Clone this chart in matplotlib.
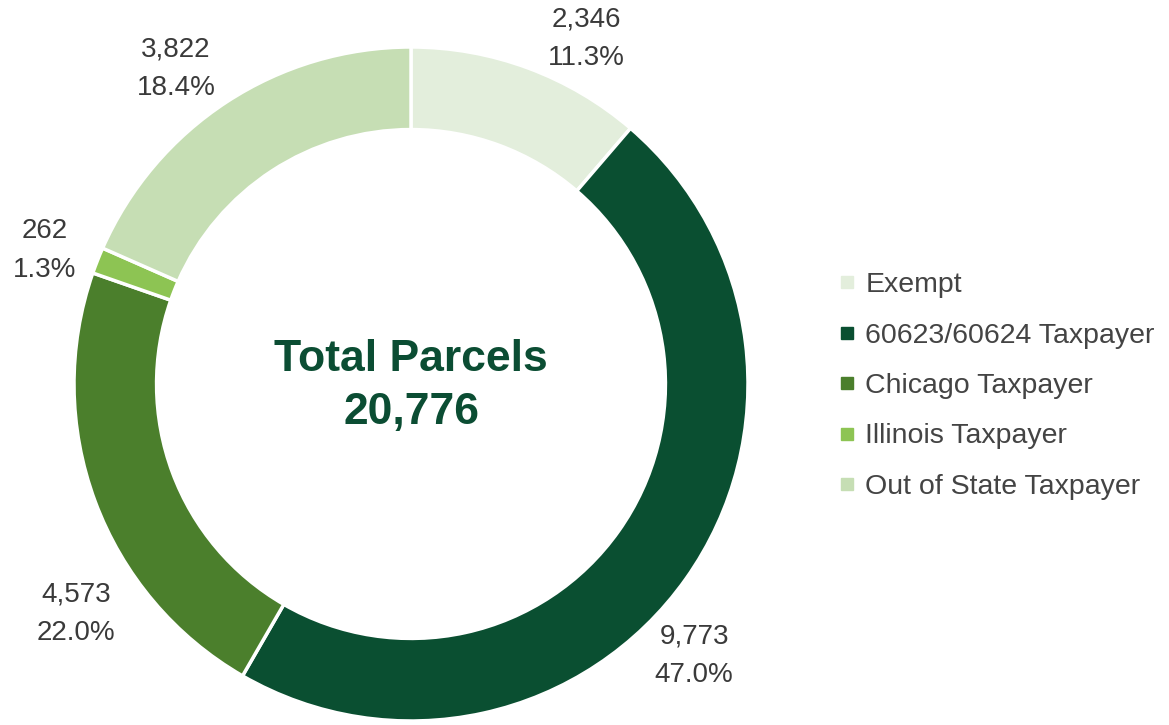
import matplotlib.pyplot as plt
from matplotlib.lines import Line2D

# parcel ownership counts
categories = ["Exempt", "60623/60624 Taxpayer", "Chicago Taxpayer",
              "Illinois Taxpayer", "Out of State Taxpayer"]
counts = [2346, 9773, 4573, 262, 3822]
pct_labels = ["11.3%", "47.0%", "22.0%", "1.3%", "18.4%"]
total_label = "20,776"

colors = ["#e3eedc", "#0a4f31", "#4b7f2c", "#8dc453", "#c6deb4"]
# where each value label sits (data units, ring radius = 1)
label_pos = [(0.519, 1.024), (0.840, -0.807), (-0.994, -0.682),
             (-1.086, 0.395), (-0.697, 0.935)]

plt.rcParams["font.family"] = ["Liberation Sans", "DejaVu Sans"]

fig = plt.figure(figsize=(11.69, 7.25), dpi=100)
ax = fig.add_axes([74 / 1169, 4 / 725, 674 / 1169, 674 / 725])

wedges, _ = ax.pie(counts, colors=colors, startangle=90, counterclock=False,
                   radius=1, wedgeprops=dict(width=0.245, edgecolor="white", linewidth=2.5))
ax.set_xlim(-1, 1)
ax.set_ylim(-1, 1)
ax.set_aspect("equal")
ax.axis("off")

for c, p, (x, y) in zip(counts, pct_labels, label_pos):
    ax.text(x, y, f"{c:,}\n{p}", ha="center", va="center", fontsize=20,
            color="#3a3a3a", linespacing=1.65, clip_on=False)

ax.text(0, 0.074, "Total Parcels", ha="center", va="center", fontsize=32,
        fontweight="bold", color="#0b4d33")
ax.text(0, -0.086, total_label, ha="center", va="center", fontsize=32,
        fontweight="bold", color="#0b4d33")

handles = [Line2D([], [], marker="s", linestyle="none", markersize=9,
                  markerfacecolor=col, markeredgecolor=col) for col in colors]
fig.legend(handles, categories, loc="center left",
           bbox_to_anchor=(824 / 1169, 1 - 386 / 725), frameon=False,
           fontsize=20.5, labelcolor="#444444", handlelength=0.6,
           handletextpad=0.35, labelspacing=0.86, borderpad=0)

plt.savefig("out.png", dpi=100)
